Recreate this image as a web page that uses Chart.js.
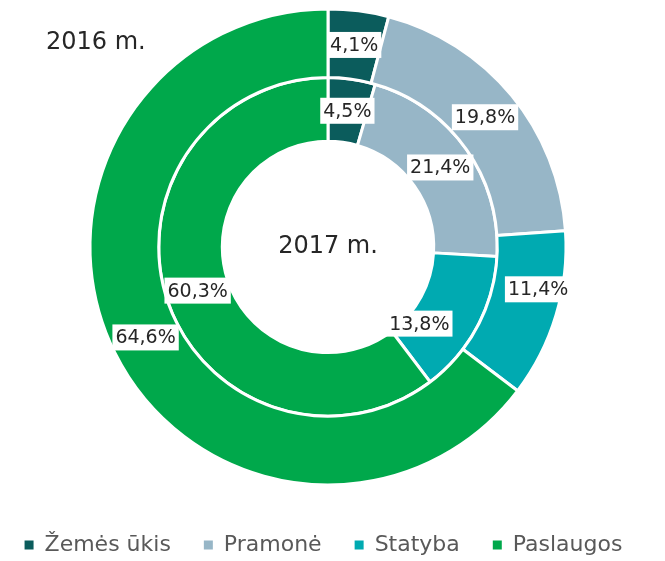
<!DOCTYPE html>
<html lang="lt">
<head>
<meta charset="UTF-8">
<title>Užimtumas</title>
<script src="https://cdn.jsdelivr.net/npm/chart.js"></script>
<style>
  html, body { margin: 0; padding: 0; background: #fff; }
  #wrap { width: 665px; height: 561px; }
</style>
</head>
<body>
<div id="wrap"><canvas id="donut"></canvas></div>
<script>
    // duomenys
    const sektoriai = ['Žemės ūkis', 'Pramonė', 'Statyba', 'Paslaugos'];
    const spalvos = ['#0b5c5c', '#97b6c7', '#00aab1', '#00a84b'];
    const metai2016 = [4.1, 19.8, 11.4, 64.6];   // išorinis žiedas
    const metai2017 = [4.5, 21.4, 13.8, 60.3];   // vidinis žiedas
    const metuPav = ['2016 m.', '2017 m.'];

    const FONT = "'DejaVu Sans', sans-serif";

    // kai kurios etiketės pastumtos kaip originale
    const postumis = { '0-2': [15, -16], '1-2': [-30, 12] };

    // procentų etiketės baltuose langeliuose
    const etiketes = {
        id: 'etiketes',
        afterDatasetsDraw(chart) {
            const ctx = chart.ctx;
            ctx.save();
            ctx.font = '19px ' + FONT;
            ctx.textAlign = 'center';
            ctx.textBaseline = 'middle';
            chart.data.datasets.forEach((ds, di) => {
                const meta = chart.getDatasetMeta(di);
                meta.data.forEach((arc, i) => {
                    const p = arc.getCenterPoint();
                    const d = postumis[di + '-' + i] || [0, 0];
                    const x = p.x + d[0], y = p.y + d[1];
                    const txt = ds.data[i].toFixed(1).replace('.', ',') + '%';
                    const w = ctx.measureText(txt).width + 6;
                    ctx.fillStyle = '#fff';
                    ctx.fillRect(x - w / 2, y - 13, w, 26);
                    ctx.fillStyle = '#262626';
                    ctx.fillText(txt, x, y + 1);
                });
            });
            // metų užrašai
            ctx.font = '24px ' + FONT;
            ctx.textAlign = 'left';
            ctx.fillText(metuPav[0], 46, 43);
            const m = chart.getDatasetMeta(1).data[0];
            ctx.textAlign = 'center';
            ctx.fillText(metuPav[1], m.x, m.y);
            ctx.restore();
        }
    };

    new Chart(document.getElementById('donut'), {
        type: 'doughnut',
        data: {
            labels: sektoriai,
            datasets: [{
                label: metuPav[0],
                data: metai2016,
                backgroundColor: spalvos,
                borderColor: '#fff',
                borderWidth: 3,
                weight: 67
            }, {
                label: metuPav[1],
                data: metai2017,
                backgroundColor: spalvos,
                borderColor: '#fff',
                borderWidth: 3,
                weight: 62
            }]
        },
        options: {
            responsive: true,
            maintainAspectRatio: false,
            animation: false,
            radius: 238,
            cutout: 109,
            layout: { padding: { top: 0, right: 9, bottom: -5, left: -9 } },
            plugins: {
                tooltip: { enabled: false },
                legend: {
                    position: 'bottom',
                    title: { display: true, text: '', font: { size: 6 }, padding: 0 },
                    labels: {
                        boxWidth: 9,
                        boxHeight: 9,
                        padding: 33,
                        color: '#595959',
                        font: { family: FONT, size: 22 },
                        generateLabels(chart) {
                            const base = Chart.overrides.doughnut.plugins.legend.labels.generateLabels(chart);
                            return base.map(l => Object.assign(l, { lineWidth: 0, strokeStyle: l.fillStyle }));
                        }
                    }
                }
            }
        },
        plugins: [etiketes]
    });
</script>
</body>
</html>
